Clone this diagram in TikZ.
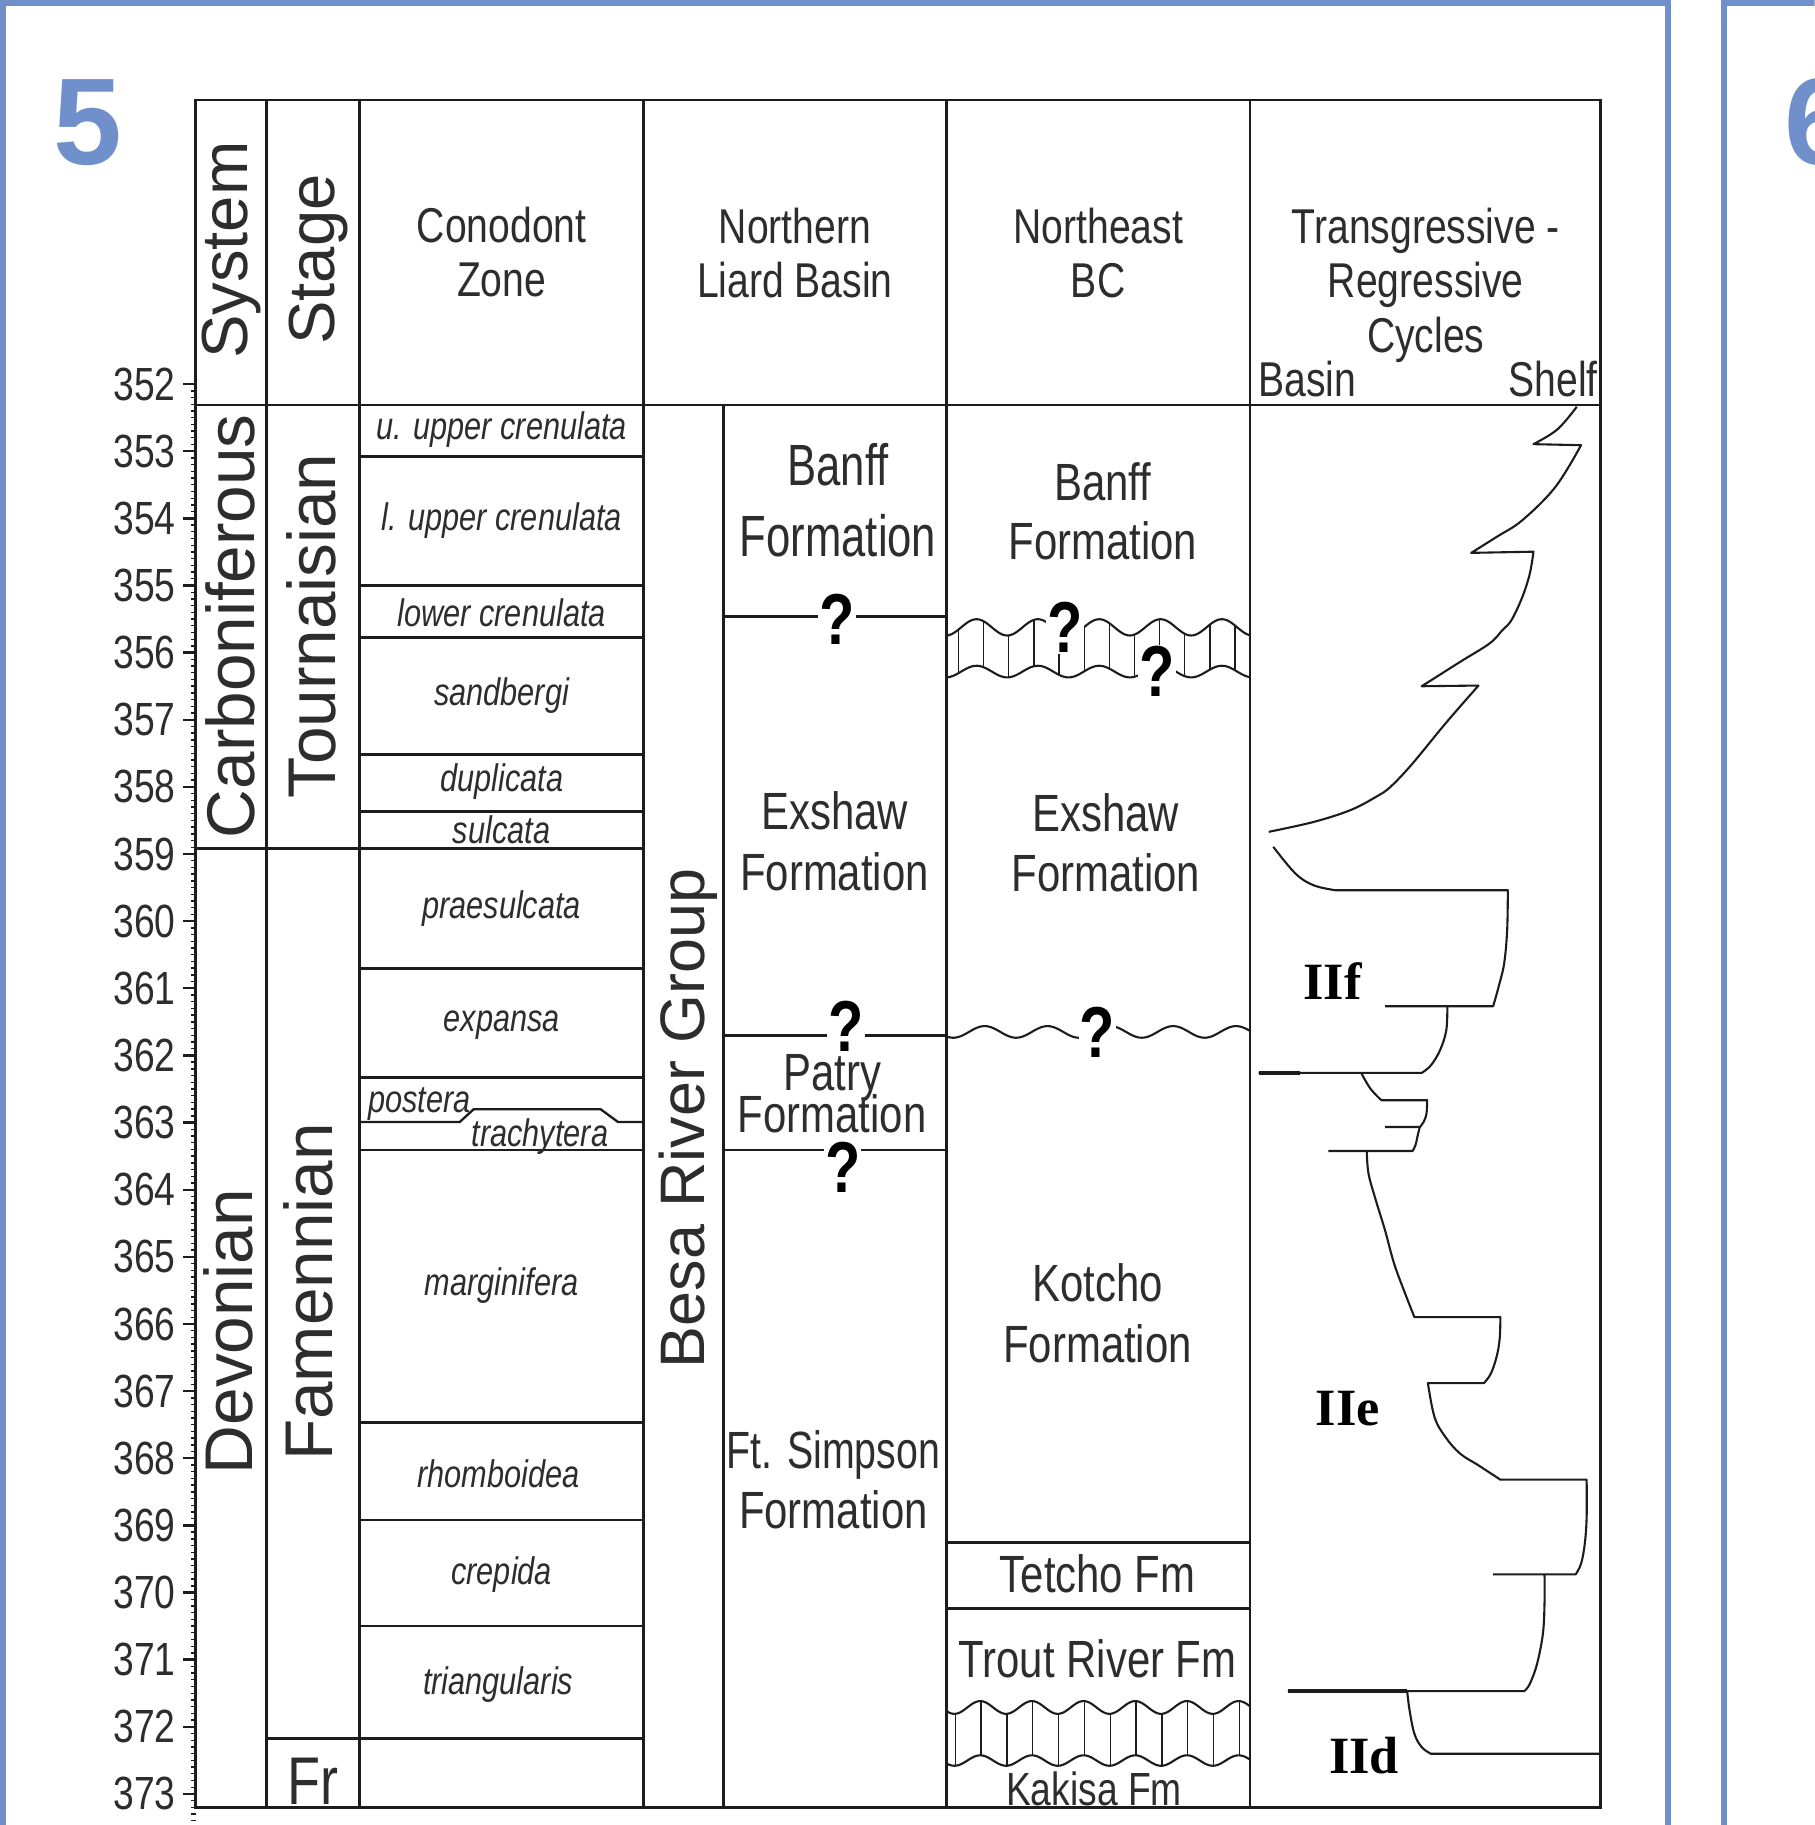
\documentclass[tikz,border=0pt]{standalone}
\usepackage{fontspec}
\setmainfont{Liberation Sans}
\newfontfamily\narf[FakeStretch=0.8]{Liberation Sans}
\newfontfamily\narfB[FakeStretch=0.75]{Liberation Sans}
\newfontfamily\romf{Liberation Serif}
\definecolor{frameblue}{RGB}{112,144,204}
\definecolor{lc}{RGB}{28,28,28}
\definecolor{tc}{RGB}{45,45,45}
\newcommand\fsz[1]{\fontsize{#1}{#1}\selectfont}
\begin{document}
\begin{tikzpicture}[x=1pt,y=-1pt,
  tline/.style={line width=2.4pt,draw=lc},
  hdrtext/.style={font=\narf\fsz{42},text=tc,inner sep=0pt,anchor=base},
  rottext/.style={font=\fsz{58},text=tc,inner sep=0pt,anchor=base,rotate=90},
  zonetext/.style={font=\narf\itshape\fsz{33},text=tc,inner sep=0pt,anchor=base},
  fmtext/.style={font=\narf\fsz{45},text=tc,inner sep=0pt,anchor=base},
  fmbtext/.style={font=\narfB\fsz{50},text=tc,inner sep=0pt,anchor=base},
  qmark/.style={font=\narf\bfseries\fsz{62},text=black,fill=white,inner sep=1pt},
  agetext/.style={font=\narf\fsz{40},text=tc,inner sep=0pt,anchor=east},
  cyctext/.style={font=\romf\bfseries\fsz{45},text=black,inner sep=0pt},
  trcurve/.style={line width=1.8pt,draw=lc,line join=round},
  wavy/.style={line width=1.8pt,draw=lc},
  hatchl/.style={line width=1.1pt,draw=lc},
  bignum/.style={font=\bfseries\fsz{106},text=frameblue,inner sep=0pt,anchor=base west}
]
\useasboundingbox (0,0) rectangle (1559,1568);
\clip (0,0) rectangle (1559,1568);
\fill[white] (0,0) rectangle (1559,1568);

% panel frames
\draw[frameblue,line width=5pt] (2.5,1700) -- (2.5,2.5) -- (1433,2.5) -- (1433,1700);
\draw[frameblue,line width=5pt] (1481,1700) -- (1481,2.5) -- (1700,2.5);
\node[bignum] (five) at (46,141) {5};
\node[bignum] (six) at (1533,141) {6};

% age axis
\foreach \i in {0,...,216} \draw[line width=1.2pt,lc] (164,{330+\i*5.768}) -- (168,{330+\i*5.768});
\foreach \a in {352,...,373} {
  \draw[line width=2pt,lc] (157.5,{330+(\a-352)*57.68}) -- (168,{330+(\a-352)*57.68});
  \node[agetext] (age\a) at (151,{330+(\a-352)*57.68}) {\a};
}

% table frame
\draw[tline] (168,86) rectangle (1375,1553);
\draw[tline] (168,348) -- (1375,348);
\foreach \x in {229,309,553,813,1074} \draw[tline] (\x,86) -- (\x,1553);
\draw[tline] (621.5,348) -- (621.5,1553);
\draw[tline] (168,729) -- (553,729);
\draw[tline] (229,1494) -- (553,1494);
\foreach \y in {392,503,548,648,697,832,926,988,1222,1306,1397} \draw[tline] (309,\y) -- (553,\y);
\draw[line width=2pt,lc] (309,964) -- (395,964) -- (407,953) -- (516,953) -- (531,964) -- (553,964);
\draw[tline] (621.5,530) -- (813,530);
\draw[tline] (621.5,890) -- (813,890);
\draw[tline] (621.5,988) -- (813,988);
\draw[tline] (813,1325) -- (1074,1325);
\draw[tline] (813,1382) -- (1074,1382);

% headers
\node[rottext,font=\fsz{56}] (hSys) at (213,215) {System};
\node[rottext,font=\fsz{56}] (hStg) at (287,223) {Stage};
\node[hdrtext] (hC1) at (431,208) {Conodont};
\node[hdrtext] (hC2) at (431,255) {Zone};
\node[hdrtext] (hN1) at (683,209) {Northern};
\node[hdrtext] (hN2) at (683,256) {Liard Basin};
\node[hdrtext] (hE1) at (943.5,209) {Northeast};
\node[hdrtext] (hE2) at (943.5,256) {BC};
\node[hdrtext] (hT1) at (1225,209) {Transgressive -};
\node[hdrtext] (hT2) at (1225,256) {Regressive};
\node[hdrtext] (hT3) at (1225,303) {Cycles};
\node[hdrtext,anchor=base west] (hB) at (1081,341) {Basin};
\node[hdrtext,anchor=base east] (hS) at (1373,341) {Shelf};

% system / stage
\node[rottext] (sCarb) at (219,538) {Carboniferous};
\node[rottext] (sDev) at (217,1144) {Devonian};
\node[rottext] (sTour) at (288,538) {Tournaisian};
\node[rottext] (sFam) at (286,1110) {Famennian};
\node[font=\narf\fsz{58},text=tc,inner sep=0pt,anchor=base west] (sFr) at (247,1550) {Fr};
\node[rottext,font=\fsz{54}] (besa) at (605,961) {Besa River Group};

% conodont zones
\node[zonetext] (z1) at (431,378) {u. upper crenulata};
\node[zonetext] (z2) at (431,456) {l. upper crenulata};
\node[zonetext] (z3) at (431,538) {lower crenulata};
\node[zonetext] (z4) at (431,606) {sandbergi};
\node[zonetext] (z5) at (431,680) {duplicata};
\node[zonetext] (z6) at (431,725) {sulcata};
\node[zonetext] (z7) at (431,789) {praesulcata};
\node[zonetext] (z8) at (431,886) {expansa};
\node[zonetext,anchor=base west] (z9) at (316,956) {postera};
\node[zonetext,anchor=base west] (z10) at (405,985) {trachytera};
\node[zonetext] (z11) at (431,1113) {marginifera};
\node[zonetext] (z12) at (428,1278) {rhomboidea};
\node[zonetext] (z13) at (431,1361) {crepida};
\node[zonetext] (z14) at (428,1456) {triangularis};

% Northern Liard Basin formations
\node[fmbtext] (nlB1) at (720,417) {Banff};
\node[fmbtext] (nlB2) at (720,478) {Formation};
\node[fmtext] (nlE1) at (717,713) {Exshaw};
\node[fmtext] (nlE2) at (717,765) {Formation};
\node[fmtext] (pat1) at (715,937) {Patry};
\node[fmtext] (pat2) at (715,973) {Formation};
\node[fmtext,font=\narfB\fsz{45}] (fts1) at (716,1262) {Ft. Simpson};
\node[fmtext] (fts2) at (716,1313) {Formation};

% Northeast BC formations
\node[fmtext] (neB1) at (947.5,430) {Banff};
\node[fmtext] (neB2) at (947.5,481) {Formation};
\node[fmtext] (neE1) at (950,714) {Exshaw};
\node[fmtext] (neE2) at (950,766) {Formation};
\node[fmtext] (kot1) at (943,1118) {Kotcho};
\node[fmtext] (kot2) at (943,1171) {Formation};
\node[fmtext] (tet) at (943,1368) {Tetcho Fm};
\node[fmtext] (trout) at (943,1441) {Trout River Fm};
\node[fmtext,font=\narf\fsz{40}] (kak) at (940,1551) {Kakisa Fm};

% unconformity bands
\draw[wavy] plot[domain=813:1074,samples=150] (\x,{539-7*cos(6.8311*(\x-839))});
\draw[wavy] plot[domain=813:1074,samples=150] (\x,{577-5*cos(6.8311*(\x-839))});
\foreach \k in {0,...,11} {
  \pgfmathsetmacro\hx{823.5+21.6*\k}
  \draw[hatchl] (\hx,{539-7*cos(6.8311*(\hx-839))}) -- (\hx,{577-5*cos(6.8311*(\hx-839))});
}
\draw[wavy] plot[domain=813:1074,samples=150] (\x,{886.6-5*cos(6.6667*(\x-846))});
\draw[wavy] plot[domain=813:1074,samples=150] (\x,{1467-5.5*cos(8.1081*(\x-842.2))});
\draw[wavy] plot[domain=813:1074,samples=150] (\x,{1512.6-4.5*cos(8.1081*(\x-842.2))});
\foreach \k in {0,...,11} {
  \pgfmathsetmacro\hx{820.7+22.2*\k}
  \draw[hatchl] (\hx,{1467-5.5*cos(8.1081*(\hx-842.2))}) -- (\hx,{1512.6-4.5*cos(8.1081*(\hx-842.2))});
}

% question marks
\node[qmark] (q1) at (719,532) {?};
\node[qmark] (q2) at (915,539) {?};
\node[qmark] (q3) at (994,577) {?};
\node[qmark] (q4) at (727,882) {?};
\node[qmark] (q5) at (943,887) {?};
\node[qmark] (q6) at (724,1003) {?};

% T-R curve, upper cycle
\draw[trcurve] plot[smooth,tension=0.6] coordinates {(1354.7,349.5) (1338,369) (1317.5,381.6)}
 -- (1358.4,382.5)
 -- plot[smooth,tension=0.6] coordinates {(1358.4,382.5) (1336.4,418.3) (1308,446.9) (1286,461.2) (1264,475)}
 -- (1317.5,474)
 -- plot[smooth,tension=0.6] coordinates {(1317.5,474) (1314.4,492.7) (1308,512.8) (1298.6,532.8) (1290.8,541.4) (1279.7,552.9) (1254.6,568.6) (1221.5,589.6)}
 -- (1270.3,589)
 -- plot[smooth,tension=0.6] coordinates {(1270.3,589) (1241.9,621.6) (1213.6,656) (1194.7,676) (1182.1,684.7) (1160.1,696.1) (1128.6,706.2) (1090,714.7)};
% IIf
\draw[trcurve] plot[smooth,tension=0.6] coordinates {(1094,727.6) (1113,750.5) (1128.6,760.6) (1147.5,764.9)}
 -- (1295.5,764.9)
 -- plot[smooth,tension=0.6] coordinates {(1295.5,764.9) (1294.9,799.2) (1292.3,827.9) (1287.5,848) (1282.9,864.5)}
 -- (1190,864.5);
\draw[trcurve] plot[smooth,tension=0.6] coordinates {(1243.5,864.5) (1242.6,885.2) (1237.2,902.4) (1229.4,915.3) (1221.5,921.8)} -- (1081.4,921.8);
\draw[line width=3.6pt,lc] (1081.4,921.8) -- (1117,921.8);
\draw[trcurve] plot[smooth,tension=0.6] coordinates {(1169.5,921.8) (1177.4,935.3) (1186.8,945.3)}
 -- (1226.2,945.3)
 -- plot[smooth,tension=0.6] coordinates {(1226.2,945.3) (1225.6,956.8) (1223.1,964) (1219.9,968.3)}
 -- (1190,968.3);
\draw[trcurve] plot[smooth,tension=0.6] coordinates {(1219.9,968.3) (1218.4,974) (1216.1,984) (1213.6,988.9)} -- (1141.2,988.9);
% IIe
\draw[trcurve] plot[smooth,tension=0.6] coordinates {(1174.3,988.9) (1175.8,1008.4) (1182.1,1031.3) (1190,1057.1) (1197.8,1085.7) (1207.3,1111.5) (1215.2,1131.6)}
 -- (1289.1,1131.6)
 -- plot[smooth,tension=0.6] coordinates {(1289.1,1131.6) (1288.5,1150) (1286,1165) (1281,1180) (1275,1188.3)}
 -- (1226.8,1188.3)
 -- plot[smooth,tension=0.6] coordinates {(1226.8,1188.3) (1232.5,1217.5) (1241.9,1234.7) (1254.6,1249) (1270.3,1259) (1289.1,1271.3)}
 -- (1363.2,1271.3)
 -- plot[smooth,tension=0.6] coordinates {(1363.2,1271.3) (1363.2,1303.4) (1361.6,1326.3) (1358.4,1343.5) (1353.7,1352.7)}
 -- (1282.9,1352.7);
\draw[trcurve] plot[smooth,tension=0.6] coordinates {(1327,1352.7) (1327,1377.9) (1325.6,1403.7) (1320.6,1429.5) (1314.4,1446.7) (1309.6,1453)} -- (1106.6,1453);
\draw[line width=3.6pt,lc] (1106.6,1453) -- (1209,1453);
% IId
\draw[trcurve] plot[smooth,tension=0.6] coordinates {(1209,1453) (1211.1,1469.6) (1215.2,1489.6) (1221.5,1501.1) (1229.4,1506.8)} -- (1375,1506.8);

\node[cyctext] (IIf) at (1145,843) {IIf};
\node[cyctext] (IIe) at (1158,1210) {IIe};
\node[cyctext] (IId) at (1172,1508) {IId};
\end{tikzpicture}
\end{document}
